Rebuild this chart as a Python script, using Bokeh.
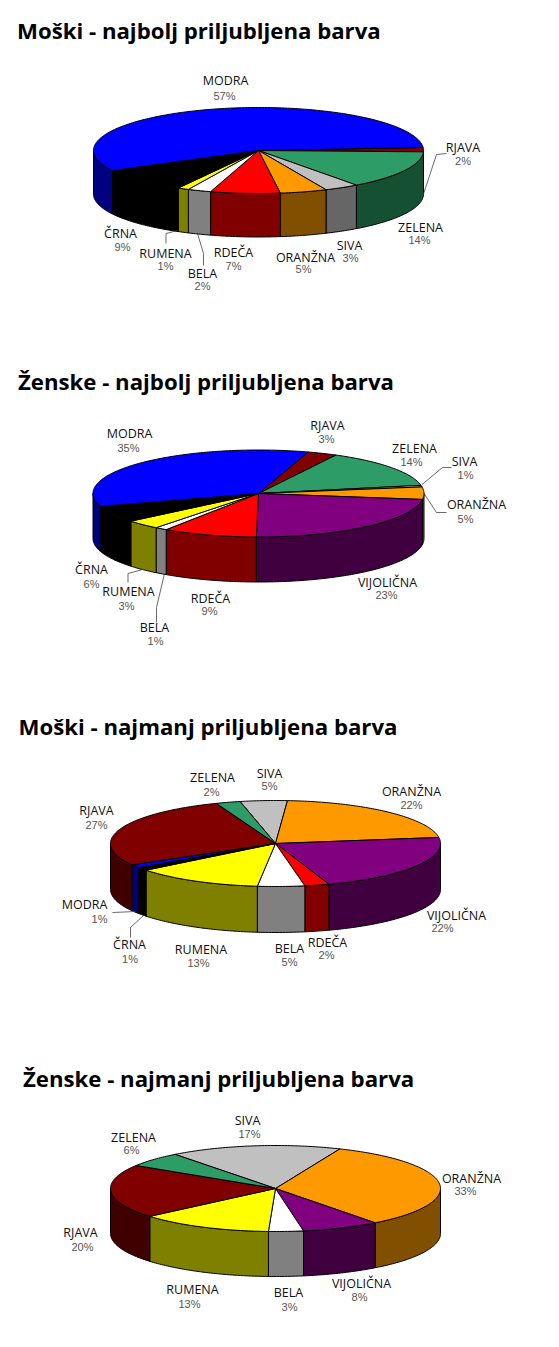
import numpy as np
from bokeh.plotting import figure
from bokeh.models import Range1d
from bokeh.embed import file_html
from bokeh.resources import INLINE
from bokeh.core.properties import value

# ---- data (labels show them rounded) ----
titles = ["Moški - najbolj priljubljena barva", "Ženske - najbolj priljubljena barva",
          "Moški - najmanj priljubljena barva", "Ženske - najmanj priljubljena barva"]
names_1 = ["RJAVA", "ZELENA", "SIVA", "ORANŽNA", "RDEČA", "BELA", "RUMENA", "ČRNA", "MODRA"]
values_1 = [1.6, 14.4, 3.4, 4.6, 6.8, 2.3, 1.1, 9.2, 56.6]
names_2 = ["RJAVA", "ZELENA", "SIVA", "ORANŽNA", "VIJOLIČNA", "RDEČA", "BELA", "RUMENA", "ČRNA", "MODRA"]
values_2 = [2.9, 14.2, 0.6, 4.6, 23.0, 9.2, 1.2, 3.4, 6.2, 34.6]
names_3 = ["SIVA", "ORANŽNA", "VIJOLIČNA", "RDEČA", "BELA", "RUMENA", "ČRNA", "MODRA", "RJAVA", "ZELENA"]
values_3 = [4.6, 21.6, 22.0, 2.4, 4.6, 12.6, 1.2, 1.2, 27.4, 2.4]
names_4 = ["SIVA", "ORANŽNA", "VIJOLIČNA", "BELA", "RUMENA", "RJAVA", "ZELENA"]
values_4 = [16.8, 33.3, 7.6, 3.4, 13.1, 20.2, 5.6]

# ---- styles ----
TOP = {"MODRA": "#0000FF", "RJAVA": "#800000", "ZELENA": "#2E9C66", "SIVA": "#C0C0C0", "ORANŽNA": "#FF9900",
       "VIJOLIČNA": "#800080", "RDEČA": "#FF0000", "BELA": "#FFFFFF", "RUMENA": "#FFFF00", "ČRNA": "#000000"}
SIDE = {"MODRA": "#000080", "RJAVA": "#400000", "ZELENA": "#165033", "SIVA": "#666666", "ORANŽNA": "#804F00",
        "VIJOLIČNA": "#400040", "RDEČA": "#800000", "BELA": "#808080", "RUMENA": "#808000", "ČRNA": "#000000"}

# ---- layout (image pixels) ----
pies = [
    dict(names=names_1, vals=values_1, cx=258, cy=150, rx=165, ry=43, depth=43.5, start=4),
    dict(names=names_2, vals=values_2, cx=258, cy=493, rx=165.5, ry=43.5, depth=45, start=72.5),
    dict(names=names_3, vals=values_3, cx=275, cy=843, rx=165, ry=43, depth=46, start=102.4),
    dict(names=names_4, vals=values_4, cx=275, cy=1188, rx=165, ry=43, depth=45, start=127.5),
]
title_pos = [(16.5, 30), (17.5, 381), (18, 726), (22.5, 1078)]
label_pos = [
    [(462.5, 147, 462.5, 160), (420, 227, 419, 239), (349, 245, 350, 257), (305, 257, 303, 268),
     (233, 252, 233, 265), (202, 273, 202, 285), (165, 253, 165, 265), (120, 233, 122, 246), (225, 80, 224, 95)],
    [(327, 425, 326, 438), (414, 448, 411, 461), (464, 461, 465, 474), (476, 504, 465, 518),
     (387, 582, 386, 594), (210, 598, 209, 610), (154, 627, 155, 640), (128, 591, 126, 605),
     (91, 569, 91, 583), (129, 433, 128, 447)],
    [(269, 773, 269, 785), (411, 791, 411, 804), (456, 915, 442, 927), (327, 942, 326, 954),
     (289, 948, 289, 961), (200.5, 949, 198, 962), (129, 944, 129.5, 958), (84, 904, 99, 918),
     (96, 810, 96, 824), (212, 777, 211, 791)],
    [(247, 1120, 249, 1133), (471, 1178, 465, 1190), (361, 1283, 359, 1296), (288, 1292, 289, 1306),
     (192, 1289, 189, 1303), (80, 1232, 82, 1246), (133, 1137, 131, 1149)],
]
leaders = [
    ([446, 436, 422.5], [153, 154, 195]), ([165.5, 165.5, 177], [243, 233, 230]), ([197, 203, 203], [233, 253, 265]),
    ([451, 442, 421.5], [467, 467, 484]), ([423.5, 436, 446], [493, 512, 512]),
    ([127.5, 127.5, 142], [582, 573, 569]), ([164, 156, 156], [573, 607, 622]),
    ([112, 135], [912, 911]), ([143, 130, 130], [915, 927, 937]),
]

p = figure(width=543, height=1331, output_backend="svg", toolbar_location=None,
           x_range=Range1d(0, 543), y_range=Range1d(1331, 0), min_border=0)
p.axis.visible = False
p.grid.visible = False
p.outline_line_color = None


def arc(pie, a0, a1):
    t = np.radians(np.linspace(a0, a1, max(2, int(abs(a1 - a0)) + 2)))
    return pie["cx"] + pie["rx"] * np.cos(t), pie["cy"] - pie["ry"] * np.sin(t)


for pie in pies:
    # slices run clockwise from the start angle, each proportional to its value
    sweep = np.array(pie["vals"], dtype=float) / sum(pie["vals"]) * 360
    ends = pie["start"] - np.cumsum(sweep)
    begins = ends + sweep
    # walls: only the part of each slice facing the viewer
    for shift in (0, 360):
        for n, a0, a1 in zip(pie["names"], begins + shift, ends + shift):
            lo, hi = max(a1, -180), min(a0, 0)
            if hi <= lo:
                continue
            x, y = arc(pie, hi, lo)
            xs = np.concatenate([x, x[::-1]])
            ys = np.concatenate([y, y[::-1] + pie["depth"]])
            p.patch(xs, ys, fill_color=SIDE[n], line_color="#000000", line_width=1)
    # top faces
    for n, a0, a1 in zip(pie["names"], begins, ends):
        x, y = arc(pie, a0, a1)
        p.patch(np.r_[pie["cx"], x], np.r_[pie["cy"], y], fill_color=TOP[n], line_color="#000000", line_width=1)

for xs, ys in leaders:
    p.line(xs, ys, line_color="#444444", line_width=0.8)

for t, (x, y) in zip(titles, title_pos):
    p.text([x], [y], text=[t], text_font=value("Open Sans"), text_font_style="bold",
           text_font_size="22.2px", text_baseline="middle", text_align="left", text_color="#000000")

for pie, labs in zip(pies, label_pos):
    for n, v, (nx, ny, vx, vy) in zip(pie["names"], pie["vals"], labs):
        p.text([nx], [ny], text=[n], text_font=value("Open Sans"), text_font_size="12.5px",
               text_baseline="middle", text_align="center", text_color="#111111")
        p.text([vx], [vy], text=[f"{v:.0f}%"], text_font=value("Liberation Sans"), text_font_size="11px",
               text_baseline="middle", text_align="center", text_color="#555555")

open("out.html", "w").write(file_html(p, INLINE))
